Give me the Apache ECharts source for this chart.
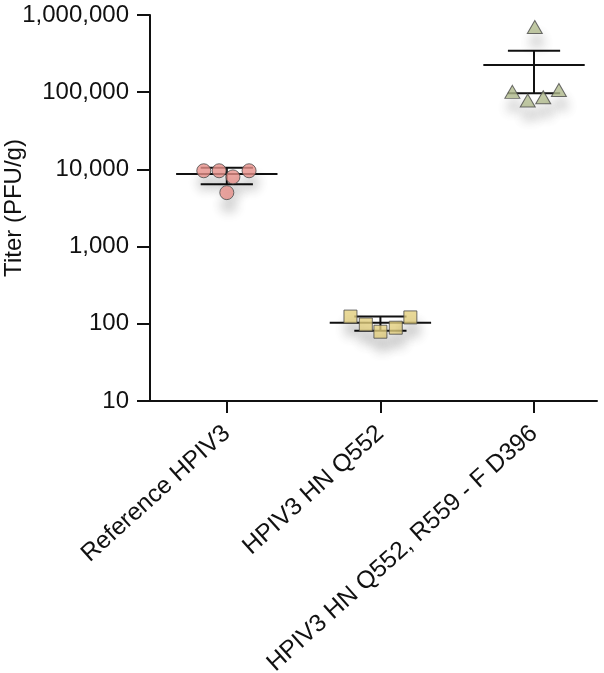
<!DOCTYPE html>
<html>
<head>
<meta charset="utf-8">
<style>
  html, body { margin: 0; padding: 0; background: #fff; }
  #chart { width: 604px; height: 673px; }
</style>
<script src="https://cdn.jsdelivr.net/npm/echarts@6/dist/echarts.min.js"></script>
</head>
<body>
<div id="chart"></div>
<script>
const categories = ['Reference HPIV3', 'HPIV3 HN Q552', 'HPIV3 HN Q552, R559 - F D396']

// titers per animal
const referenceValues = [9600, 9600, 8000, 9600, 5000]
const q552Values = [124, 98, 79, 89, 121]
const doubleValues = [700000, 101000, 78000, 86000, 107000]

// horizontal scatter offset of each point within its column
const referenceJitter = [-0.15, -0.05, 0.04, 0.145, 0.0]
const q552Jitter = [-0.195, -0.095, 0.0, 0.1, 0.195]
const doubleJitter = [0.005, -0.141, -0.041, 0.06, 0.162]

// group mean and error bar ends
const meanValues = [8700, 103, 225000]
const errorLow = [6400, 81, 97000]
const errorHigh = [10500, 124, 345000]

const yTicks = [10, 100, 1000, 10000, 100000, 1000000]

const font = '"Liberation Sans", Arial, Helvetica, sans-serif'

function points(values, jitter, column) {
  return values.map((v, i) => [column + jitter[i], v])
}

const summaryData = categories.map((_, i) => [i + 1, meanValues[i], errorLow[i], errorHigh[i]])

function renderSummary(params, api) {
  const x = api.value(0)
  const mean = api.coord([x, api.value(1)])
  const low = api.coord([x, api.value(2)])
  const high = api.coord([x, api.value(3)])
  const meanL = api.coord([x - 0.33, api.value(1)])
  const meanR = api.coord([x + 0.33, api.value(1)])
  const capL = api.coord([x - 0.17, api.value(1)])
  const capR = api.coord([x + 0.17, api.value(1)])
  const style = { stroke: '#111', lineWidth: 2 }
  return {
    type: 'group',
    children: [
      { type: 'line', shape: { x1: meanL[0], y1: mean[1], x2: meanR[0], y2: mean[1] }, style },
      { type: 'line', shape: { x1: mean[0], y1: high[1], x2: mean[0], y2: low[1] }, style },
      { type: 'line', shape: { x1: capL[0], y1: high[1], x2: capR[0], y2: high[1] }, style },
      { type: 'line', shape: { x1: capL[0], y1: low[1], x2: capR[0], y2: low[1] }, style },
    ],
  }
}

const shadow = {
  borderColor: '#4a4a4a',
  borderWidth: 1,
  shadowBlur: 12,
  shadowOffsetX: 2,
  shadowOffsetY: 12,
  shadowColor: 'rgba(0,0,0,0.28)',
}

const chart = echarts.init(document.getElementById('chart'), null, { renderer: 'canvas' })

chart.setOption({
  animation: false,
  backgroundColor: '#fff',
  grid: { left: 150, right: 7, top: 15, bottom: 272, containLabel: false, outerBoundsMode: 'none' },
  xAxis: {
    type: 'value',
    min: 0.5,
    max: 3.41,
    splitLine: { show: false },
    axisLine: { show: true, lineStyle: { color: '#111', width: 2 } },
    axisTick: { show: true, customValues: [1, 2, 3], length: 12, lineStyle: { color: '#111', width: 2 } },
    axisLabel: {
      customValues: [1, 2, 3],
      rotate: 42,
      margin: 29,
      fontSize: 24.5,
      fontFamily: font,
      color: '#111',
      formatter: v => categories[Math.round(v) - 1] || '',
    },
  },
  yAxis: {
    type: 'log',
    logBase: 10,
    min: 10,
    max: 1000000,
    name: 'Titer (PFU/g)',
    nameLocation: 'middle',
    nameRotate: 90,
    nameGap: 124,
    nameMoveOverlap: false,
    nameTextStyle: { fontSize: 24, fontFamily: font, color: '#111' },
    splitLine: { show: false },
    axisLine: { show: true, lineStyle: { color: '#111', width: 2 } },
    axisTick: { show: true, length: 13, customValues: yTicks, lineStyle: { color: '#111', width: 2 } },
    axisLabel: {
      customValues: yTicks,
      margin: 21,
      fontSize: 24,
      fontFamily: font,
      color: '#111',
      formatter: v => Number(v).toLocaleString('en-US'),
    },
  },
  series: [
    {
      type: 'custom',
      renderItem: renderSummary,
      data: summaryData,
      z: 1,
      silent: true,
    },
    {
      type: 'scatter',
      name: categories[0],
      data: points(referenceValues, referenceJitter, 1),
      symbol: 'circle',
      symbolSize: 14,
      itemStyle: Object.assign({ color: '#E8918B' }, shadow),
      z: 3,
    },
    {
      type: 'scatter',
      name: categories[1],
      data: points(q552Values, q552Jitter, 2),
      symbol: 'rect',
      symbolSize: 13,
      itemStyle: Object.assign({ color: '#E4CF7E' }, shadow),
      z: 3,
    },
    {
      type: 'scatter',
      name: categories[2],
      data: points(doubleValues, doubleJitter, 3),
      symbol: 'triangle',
      symbolSize: [15, 13],
      itemStyle: Object.assign({ color: '#B2BC8D' }, shadow),
      z: 3,
    },
  ],
})
</script>
</body>
</html>
